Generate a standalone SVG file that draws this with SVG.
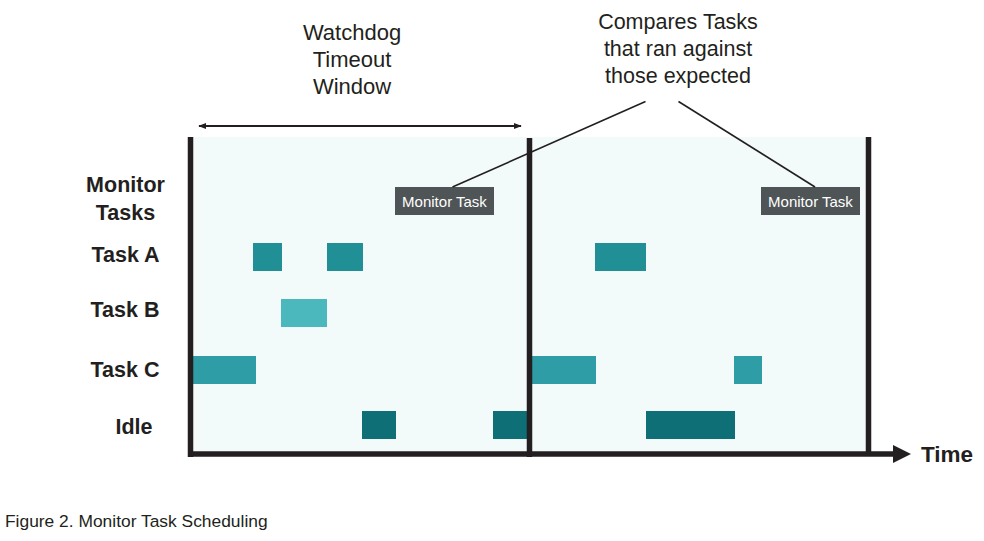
<svg xmlns="http://www.w3.org/2000/svg" width="984" height="541" viewBox="0 0 984 541">
  <style>
    .lbl { font-family: "Liberation Sans", Arial, sans-serif; font-weight: bold; font-size: 21.5px; fill: #231f20; text-anchor: middle; }
    .note { font-family: "Liberation Sans", Arial, sans-serif; font-size: 21.5px; fill: #231f20; text-anchor: middle; }
    .mt { fill: #4f5556; }
    .mtt { font-family: "Liberation Sans", Arial, sans-serif; font-size: 15px; fill: #ffffff; text-anchor: middle; }
    .bar { stroke: #231f20; stroke-width: 5.5; fill: none; }
    .lead { stroke: #231f20; stroke-width: 1.6; fill: none; }
    .ta { fill: #218f96; }
    .tb { fill: #4bb8bd; }
    .tc { fill: #2e9da5; }
    .idle { fill: #0e6f77; }
  </style>
  <defs>
    <marker id="ah" viewBox="0 0 10 10" refX="9" refY="5" markerWidth="4" markerHeight="4" orient="auto-start-reverse" markerUnits="strokeWidth">
      <path d="M0,1 L10,5 L0,9 Z" fill="#231f20"/>
    </marker>
  </defs>

  <rect x="0" y="0" width="984" height="541" fill="#ffffff"/>

  <!-- panel background -->
  <rect id="panel" x="193" y="137" width="673" height="314" fill="#f3fafa"/>

  <!-- top labels -->
  <g id="watchdog-label">
    <text class="note" x="352" y="40" style="font-size:22px">Watchdog</text>
    <text class="note" x="352" y="67" style="font-size:22px">Timeout</text>
    <text class="note" x="352" y="94" style="font-size:22px">Window</text>
  </g>
  <g id="compares-label">
    <text class="note" x="678" y="29">Compares Tasks</text>
    <text class="note" x="678" y="56">that ran against</text>
    <text class="note" x="678" y="83">those expected</text>
  </g>

  <!-- row labels -->
  <g id="row-labels">
    <text class="lbl" x="125.5" y="192">Monitor</text>
    <text class="lbl" x="125.5" y="220">Tasks</text>
    <text class="lbl" x="125.5" y="262">Task A</text>
    <text class="lbl" x="125" y="317">Task B</text>
    <text class="lbl" x="125" y="377">Task C</text>
    <text class="lbl" x="134" y="434">Idle</text>
  </g>

  <!-- task blocks -->
  <g id="task-a">
    <rect class="ta" x="253" y="243" width="29" height="28"/>
    <rect class="ta" x="327" y="243" width="36" height="28"/>
    <rect class="ta" x="595" y="243" width="51" height="28"/>
  </g>
  <g id="task-b">
    <rect class="tb" x="281" y="299" width="46" height="28"/>
  </g>
  <g id="task-c">
    <rect class="tc" x="193" y="356" width="63" height="28"/>
    <rect class="tc" x="532" y="356" width="64" height="28"/>
    <rect class="tc" x="734" y="356" width="28" height="28"/>
  </g>
  <g id="idle">
    <rect class="idle" x="362" y="411" width="34" height="28"/>
    <rect class="idle" x="493" y="411" width="34" height="28"/>
    <rect class="idle" x="646" y="411" width="89" height="28"/>
  </g>

  <!-- monitor task boxes -->
  <g id="monitor-task-1">
    <rect class="mt" x="395" y="187" width="99" height="28"/>
    <text class="mtt" x="444.5" y="206.5">Monitor Task</text>
  </g>
  <g id="monitor-task-2">
    <rect class="mt" x="761" y="187" width="99" height="28"/>
    <text class="mtt" x="810.5" y="206.5">Monitor Task</text>
  </g>

  <!-- axes / boundaries and connectors -->
  <g id="connectors">
    <line class="bar" x1="190.5" y1="137" x2="190.5" y2="457"/>
    <line class="bar" x1="529.5" y1="138" x2="529.5" y2="457"/>
    <line class="bar" x1="868.5" y1="137" x2="868.5" y2="454"/>
    <line class="bar" x1="188" y1="454" x2="895" y2="454"/>
    <path d="M893,445 L911,454 L893,463 Z" fill="#231f20"/>
    <line x1="199" y1="126" x2="521" y2="126" stroke="#231f20" stroke-width="2" marker-start="url(#ah)" marker-end="url(#ah)"/>
    <line class="lead" x1="452.5" y1="187" x2="645.5" y2="101.5"/>
    <line class="lead" x1="678.5" y1="101.5" x2="815" y2="187"/>
  </g>

  <text id="time-label" x="921" y="462" style="font-family:'Liberation Sans', Arial, sans-serif; font-weight:bold; font-size:22.5px; fill:#231f20">Time</text>

  <text id="caption" x="5" y="527" style="font-family:'Liberation Sans', Arial, sans-serif; font-size:17.4px; fill:#231f20">Figure 2. Monitor Task Scheduling</text>
</svg>
